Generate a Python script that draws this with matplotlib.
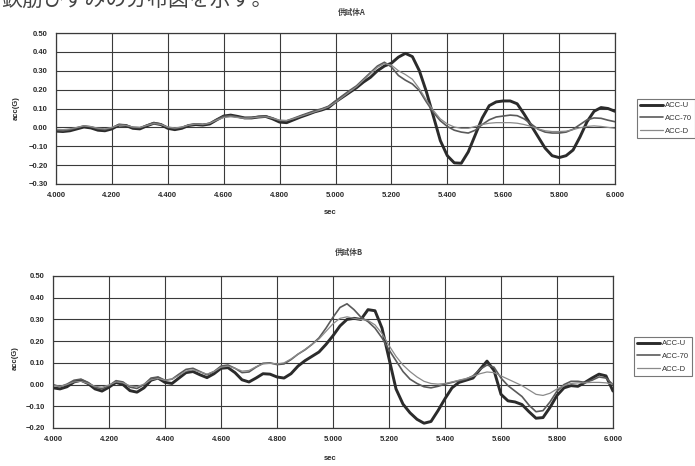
import numpy as np
import matplotlib
matplotlib.use("Agg")
import matplotlib.pyplot as plt
from matplotlib.ticker import FixedLocator

plt.rcParams['font.family'] = ['Liberation Sans', 'Noto Sans CJK JP', 'DejaVu Sans']

# ---------------- data ----------------
series_names = ["ACC-U", "ACC-70", "ACC-D"]
t_A = np.round(np.arange(0, 81) * 0.025 + 4.0, 3)
t_B = np.round(np.arange(0, 81) * 0.025 + 4.0, 3)

accU_A = [-0.020, -0.022, -0.018, -0.008, 0.002, -0.003, -0.015, -0.018, -0.008, 0.012,
          0.010, -0.005, -0.008, 0.008, 0.022, 0.015, -0.005, -0.012, -0.005, 0.010,
          0.015, 0.012, 0.018, 0.040, 0.060, 0.065, 0.058, 0.050, 0.050, 0.055,
          0.058, 0.045, 0.028, 0.025, 0.040, 0.055, 0.068, 0.082, 0.092, 0.105,
          0.135, 0.160, 0.185, 0.210, 0.240, 0.265, 0.300, 0.325, 0.340, 0.372,
          0.392, 0.375, 0.300, 0.190, 0.060, -0.070, -0.150, -0.188, -0.190, -0.130,
          -0.040, 0.050, 0.115, 0.135, 0.140, 0.140, 0.125, 0.070, 0.010, -0.050,
          -0.110, -0.150, -0.160, -0.150, -0.120, -0.050, 0.030, 0.085, 0.105, 0.100,
          0.085]
acc70_A = [-0.015, -0.018, -0.012, -0.002, 0.008, 0.003, -0.008, -0.012, -0.002, 0.015,
           0.012, 0.000, -0.002, 0.012, 0.025, 0.018, 0.000, -0.006, 0.000, 0.012,
           0.018, 0.015, 0.022, 0.042, 0.058, 0.062, 0.055, 0.050, 0.052, 0.058,
           0.060, 0.050, 0.036, 0.035, 0.048, 0.062, 0.075, 0.088, 0.098, 0.112,
           0.140, 0.168, 0.195, 0.220, 0.255, 0.290, 0.325, 0.345, 0.320, 0.275,
           0.250, 0.230, 0.195, 0.135, 0.080, 0.035, 0.005, -0.015, -0.025, -0.030,
           -0.015, 0.015, 0.040, 0.055, 0.060, 0.065, 0.062, 0.045, 0.018, -0.010,
           -0.025, -0.030, -0.030, -0.025, -0.010, 0.015, 0.040, 0.050, 0.048, 0.038,
           0.030]
accD_A = [-0.010, -0.012, -0.008, 0.000, 0.008, 0.004, -0.004, -0.008, 0.000, 0.012,
          0.010, 0.002, 0.000, 0.010, 0.020, 0.015, 0.002, -0.003, 0.002, 0.012,
          0.018, 0.016, 0.022, 0.038, 0.052, 0.056, 0.052, 0.048, 0.050, 0.054,
          0.056, 0.048, 0.038, 0.036, 0.046, 0.058, 0.070, 0.082, 0.094, 0.108,
          0.132, 0.160, 0.188, 0.215, 0.250, 0.285, 0.318, 0.338, 0.330, 0.300,
          0.280, 0.255, 0.205, 0.145, 0.090, 0.045, 0.018, 0.002, -0.005, -0.005,
          0.005, 0.015, 0.022, 0.025, 0.025, 0.025, 0.022, 0.015, 0.005, -0.008,
          -0.018, -0.022, -0.022, -0.020, -0.012, -0.002, 0.005, 0.008, 0.005, 0.000,
          -0.005]

accU_B = [-0.015, -0.020, -0.010, 0.012, 0.020, 0.005, -0.020, -0.030, -0.012, 0.010,
          0.000, -0.028, -0.035, -0.015, 0.020, 0.030, 0.010, 0.005, 0.030, 0.055,
          0.060, 0.045, 0.032, 0.050, 0.075, 0.078, 0.055, 0.022, 0.012, 0.030,
          0.050, 0.048, 0.035, 0.030, 0.050, 0.085, 0.110, 0.130, 0.150, 0.185,
          0.225, 0.270, 0.300, 0.305, 0.300, 0.345, 0.340, 0.260, 0.120, -0.020,
          -0.090, -0.130, -0.160, -0.178, -0.170, -0.120, -0.065, -0.015, 0.010, 0.020,
          0.030, 0.070, 0.108, 0.065, -0.045, -0.075, -0.080, -0.092, -0.125, -0.155,
          -0.152, -0.105, -0.050, -0.015, -0.005, -0.008, 0.010, 0.030, 0.048, 0.040,
          -0.030]
acc70_B = [0.000, -0.010, 0.002, 0.020, 0.025, 0.010, -0.012, -0.020, -0.005, 0.018,
           0.012, -0.012, -0.018, 0.000, 0.030, 0.035, 0.020, 0.025, 0.048, 0.070,
           0.075, 0.060, 0.045, 0.060, 0.085, 0.090, 0.075, 0.055, 0.058, 0.080,
           0.098, 0.100, 0.092, 0.095, 0.115, 0.140, 0.160, 0.185, 0.215, 0.260,
           0.310, 0.355, 0.372, 0.345, 0.310, 0.290, 0.260, 0.215, 0.160, 0.110,
           0.060, 0.025, 0.005, -0.010, -0.015, -0.008, 0.002, 0.010, 0.018, 0.025,
           0.040, 0.070, 0.090, 0.080, 0.030, -0.005, -0.030, -0.055, -0.095, -0.125,
           -0.120, -0.080, -0.030, 0.000, 0.015, 0.015, 0.010, 0.020, 0.035, 0.030,
           0.000]
accD_B = [-0.005, -0.008, 0.000, 0.012, 0.015, 0.005, -0.008, -0.012, -0.002, 0.012,
          0.008, -0.006, -0.010, 0.002, 0.022, 0.028, 0.020, 0.025, 0.042, 0.062,
          0.068, 0.058, 0.048, 0.060, 0.080, 0.085, 0.075, 0.062, 0.065, 0.082,
          0.095, 0.098, 0.095, 0.100, 0.118, 0.140, 0.162, 0.185, 0.210, 0.245,
          0.280, 0.305, 0.312, 0.305, 0.300, 0.295, 0.275, 0.235, 0.180, 0.130,
          0.090, 0.060, 0.035, 0.015, 0.005, 0.002, 0.005, 0.012, 0.020, 0.028,
          0.038, 0.050, 0.058, 0.055, 0.040, 0.025, 0.010, -0.005, -0.025, -0.045,
          -0.050, -0.040, -0.020, -0.005, 0.005, 0.008, 0.008, 0.010, 0.010, 0.008,
          0.002]

x_ticks = [4.0, 4.2, 4.4, 4.6, 4.8, 5.0, 5.2, 5.4, 5.6, 5.8, 6.0]
x_ticklabels = ["4.000", "4.200", "4.400", "4.600", "4.800", "5.000",
                "5.200", "5.400", "5.600", "5.800", "6.000"]
yticks_A = [-0.3, -0.2, -0.1, 0.0, 0.1, 0.2, 0.3, 0.4, 0.5]
yticks_B = [-0.2, -0.1, 0.0, 0.1, 0.2, 0.3, 0.4, 0.5]
titles = ["供試体A", "供試体B"]
header_text = "鉄筋ひずみの分布図を示す。"

# ---------------- styling ----------------
W, H = 695, 466
fig = plt.figure(figsize=(W / 100, H / 100), dpi=100)
fig.patch.set_facecolor("white")

ink = "#2a2a2a"
styles = [dict(color="#2b2b2b", lw=2.1),
          dict(color="#5a5a5a", lw=1.2),
          dict(color="#8a8a8a", lw=0.9)]


def fx(px):
    return px / W


def fy(py):
    return 1 - py / H


def make_axes(rect, t, ys, yticks, ylim, title, title_xy, ylabel_xy, xlabel_xy, leg_xy):
    ax = fig.add_axes(rect)
    for s, y, name in zip(styles, ys, series_names):
        ax.plot(t, y, label=name, solid_joinstyle="round", solid_capstyle="round", **s)
    ax.set_xlim(4.0, 6.0)
    ax.set_ylim(*ylim)
    ax.xaxis.set_major_locator(FixedLocator(x_ticks))
    ax.set_xticklabels(x_ticklabels)
    ax.yaxis.set_major_locator(FixedLocator(yticks))
    ax.set_yticklabels([("−%.2f" % abs(v)) if v < 0 else "%.2f" % v for v in yticks])
    ax.grid(True, color="#3a3a3a", lw=0.8)
    ax.set_axisbelow(True)
    for sp in ax.spines.values():
        sp.set_color("#3a3a3a")
        sp.set_linewidth(0.9)
    ax.tick_params(length=0, labelsize=5.5, colors=ink, pad=6)
    for lab in ax.get_xticklabels() + ax.get_yticklabels():
        lab.set_fontweight("bold")
    fig.text(fx(title_xy[0]), fy(title_xy[1]), title, ha="center", va="center",
             fontsize=5.5, fontweight="bold", color="#444444",
             family=["Noto Sans CJK JP", "DejaVu Sans"])
    fig.text(fx(ylabel_xy[0]), fy(ylabel_xy[1]), "acc(G)", rotation=90,
             ha="center", va="center", fontsize=5.5, fontweight="bold", color=ink)
    fig.text(fx(xlabel_xy[0]), fy(xlabel_xy[1]), "sec", ha="center", va="center",
             fontsize=5.5, fontweight="bold", color=ink)
    leg = ax.legend(loc="upper left", bbox_to_anchor=(fx(leg_xy[0]), fy(leg_xy[1])),
                    bbox_transform=fig.transFigure, fontsize=5.5, frameon=True,
                    fancybox=False, handlelength=3.0, handletextpad=0.3,
                    borderpad=0.4, labelspacing=0.7, borderaxespad=0)
    leg.get_frame().set_edgecolor("#555555")
    leg.get_frame().set_linewidth(0.8)
    for txt in leg.get_texts():
        txt.set_color("#333333")
    return ax


make_axes([fx(56), fy(184), fx(615) - fx(56), fy(33) - fy(184)],
          t_A, [accU_A, acc70_A, accD_A], yticks_A, (-0.3, 0.5),
          titles[0], (352, 12), (16, 108), (330, 212), (637, 99))

make_axes([fx(53), fy(428), fx(613) - fx(53), fy(276) - fy(428)],
          t_B, [accU_B, acc70_B, accD_B], yticks_B, (-0.2, 0.5),
          titles[1], (349, 253), (15, 358), (330, 458), (634, 337))

fig.text(fx(2), fy(11), header_text, ha="left", va="bottom", fontsize=15,
         color="#444444", family=["Noto Sans CJK JP", "DejaVu Sans"])

fig.savefig("out.png", dpi=100, facecolor="white")
